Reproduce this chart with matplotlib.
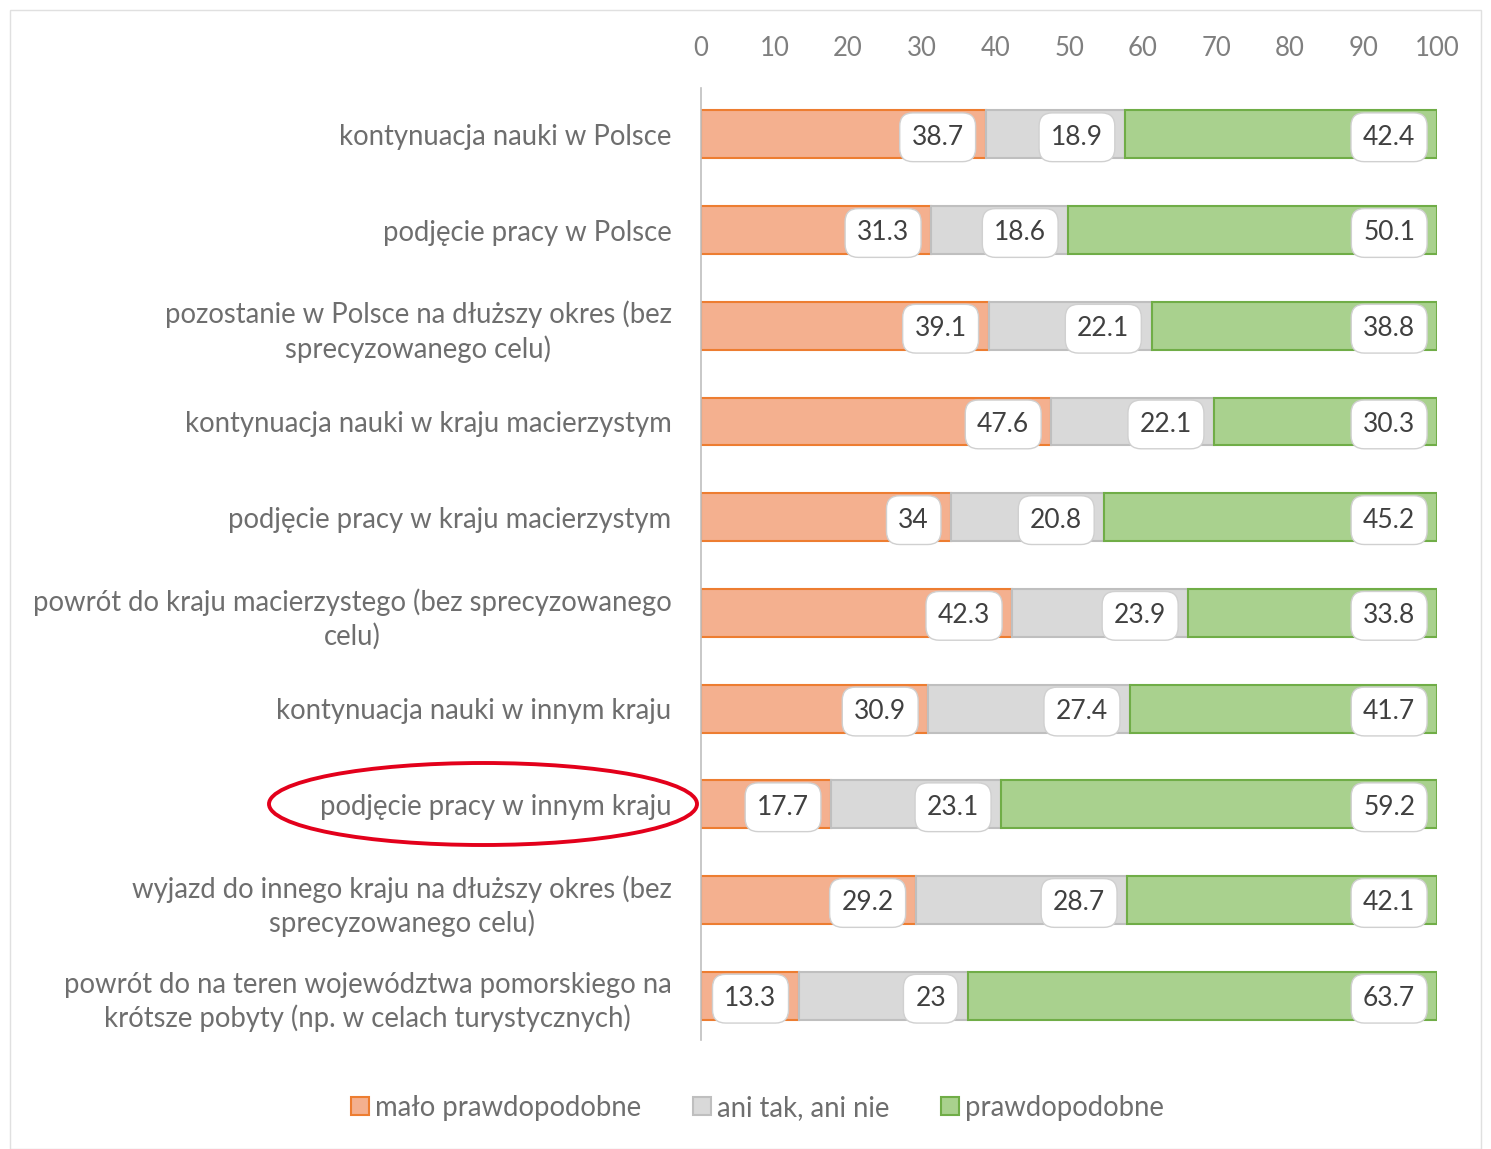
import matplotlib.pyplot as plt
from matplotlib.patches import Ellipse, Rectangle

plt.rcParams['font.family'] = ['Lato', 'DejaVu Sans']

# dane
kategorie = [
    'kontynuacja nauki w Polsce',
    'podjęcie pracy w Polsce',
    'pozostanie w Polsce na dłuższy okres (bez\nsprecyzowanego celu)',
    'kontynuacja nauki w kraju macierzystym',
    'podjęcie pracy w kraju macierzystym',
    'powrót do kraju macierzystego (bez sprecyzowanego\ncelu)',
    'kontynuacja nauki w innym kraju',
    'podjęcie pracy w innym kraju',
    'wyjazd do innego kraju na dłuższy okres (bez\nsprecyzowanego celu)',
    'powrót do na teren województwa pomorskiego na\nkrótsze pobyty (np. w celach turystycznych)',
]
malo = [38.7, 31.3, 39.1, 47.6, 34, 42.3, 30.9, 17.7, 29.2, 13.3]
ani = [18.9, 18.6, 22.1, 22.1, 20.8, 23.9, 27.4, 23.1, 28.7, 23]
prawd = [42.4, 50.1, 38.8, 30.3, 45.2, 33.8, 41.7, 59.2, 42.1, 63.7]

serie = [
    ('mało prawdopodobne', malo, '#F4B08F', '#ED7D31'),
    ('ani tak, ani nie', ani, '#D9D9D9', '#BFBFBF'),
    ('prawdopodobne', prawd, '#A9D18E', '#70AD47'),
]

fig = plt.figure(figsize=(14.91, 11.49), dpi=100)
ax = fig.add_axes([0.470, 0.095, 0.494, 0.828])

y = list(range(len(kategorie)))
left = [0.0] * len(kategorie)
for nazwa, vals, kolor, obrys in serie:
    ax.barh(y, vals, left=left, height=0.5, color=kolor, edgecolor=obrys,
            linewidth=1.5, label=nazwa)
    for i, v in enumerate(vals):
        koniec = left[i] + v
        ax.text(koniec - 3.0, i + 0.03, f'{v:g}', ha='right', va='center',
                fontsize=19, color='#404040',
                bbox=dict(boxstyle='round,pad=0.45,rounding_size=0.5',
                          facecolor='white', edgecolor='#D0D0D0', linewidth=1))
    left = [l + v for l, v in zip(left, vals)]

ax.set_xlim(0, 100)
ax.set_ylim(9.46, -0.48)
ax.set_xticks(range(0, 101, 10))
ax.xaxis.tick_top()
ax.tick_params(axis='x', length=0, labelsize=18.5, labelcolor='#7F7F7F', pad=20)
ax.set_yticks(y)
ax.set_yticklabels(kategorie, fontsize=19.8, color='#6E6E6E',
                   multialignment='center', linespacing=1.3)
ax.tick_params(axis='y', length=0, pad=21)
for s in ['top', 'right', 'bottom']:
    ax.spines[s].set_visible(False)
ax.spines['left'].set_color('#BFBFBF')
ax.spines['left'].set_linewidth(1.2)

leg = fig.legend(loc='center', bbox_to_anchor=(0.508, 0.036), ncol=3, frameon=False,
                 fontsize=19.8, handlelength=0.65, handleheight=0.65, handletextpad=0.2,
                 columnspacing=1.9)
for t in leg.get_texts():
    t.set_color('#6E6E6E')

# czerwona elipsa
fig.patches.append(Ellipse((483 / 1491, 1 - 804 / 1149), 428 / 1491, 82 / 1149,
                           transform=fig.transFigure, fill=False,
                           edgecolor='#E3001B', linewidth=2.8))
# ramka
fig.patches.append(Rectangle((10 / 1491, 0), 1 - 20 / 1491, 1 - 10 / 1149,
                             transform=fig.transFigure, fill=False,
                             edgecolor='#E0E0E0', linewidth=1))

fig.savefig('out.png', dpi=100, facecolor='white')
